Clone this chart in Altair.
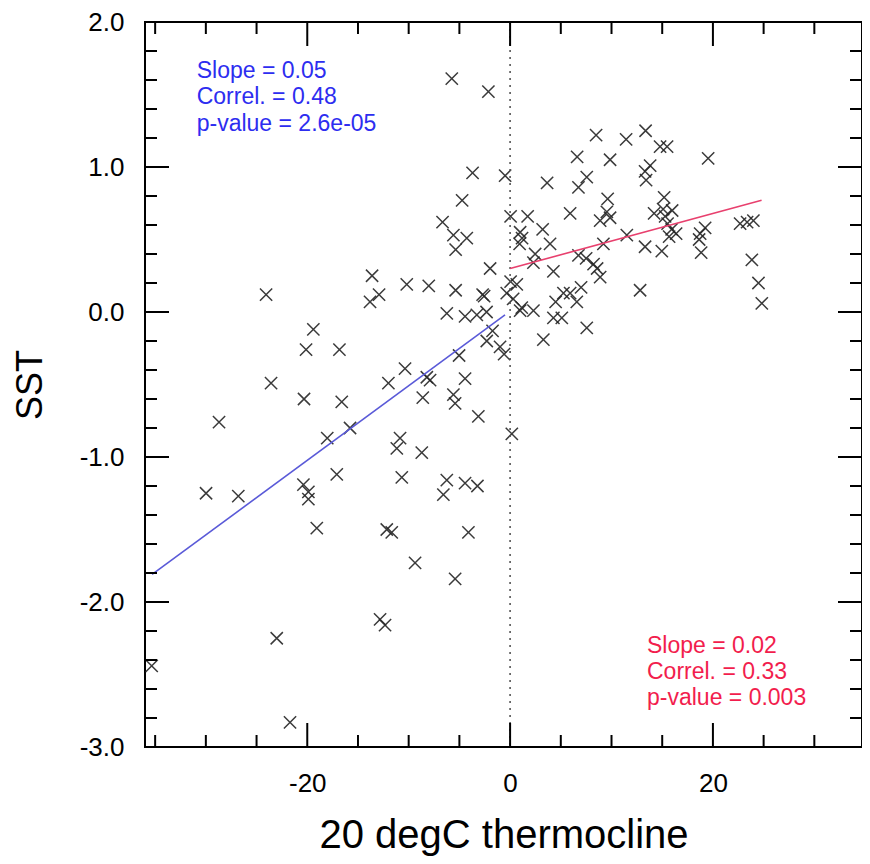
import altair as alt
import pandas as pd

# ---------------- data ----------------
# points with negative thermocline anomaly (x, y)
neg_points = [
    (-5.75, 1.61), (-2.14, 1.52), (-3.70, 0.96), (-0.49, 0.94), (-4.73, 0.77),
    (-6.66, 0.62), (-5.59, 0.53), (-4.27, 0.51), (-5.37, 0.43), (-1.97, 0.30),
    (-13.61, 0.25), (-10.19, 0.19), (-8.02, 0.18), (-5.37, 0.15), (-2.71, 0.12),
    (-2.56, 0.11), (-24.06, 0.12), (-12.92, 0.12), (-13.81, 0.07), (-6.24, -0.01),
    (-4.44, -0.03), (-3.28, -0.02), (-2.32, 0.00), (-19.40, -0.12), (-1.73, -0.13),
    (-2.30, -0.20), (-0.99, -0.24), (-0.59, -0.29), (-20.12, -0.26), (-16.83, -0.26),
    (-5.03, -0.30), (-10.36, -0.39), (-12.00, -0.49), (-8.21, -0.45), (-7.89, -0.47),
    (-4.44, -0.46), (-23.57, -0.49), (-20.32, -0.60), (-16.60, -0.62), (-8.61, -0.59),
    (-5.59, -0.57), (-5.42, -0.63), (-3.13, -0.72), (-28.70, -0.76), (-18.03, -0.87),
    (-15.78, -0.80), (-10.85, -0.87), (-11.17, -0.94), (-8.71, -0.97), (-17.09, -1.12),
    (-10.68, -1.14), (-6.24, -1.16), (-6.58, -1.26), (-4.44, -1.18), (-3.22, -1.20),
    (-29.98, -1.25), (-26.80, -1.27), (-20.38, -1.19), (-19.89, -1.24), (-19.89, -1.29),
    (-19.06, -1.49), (-12.16, -1.50), (-11.67, -1.52), (-4.11, -1.52), (-9.37, -1.73),
    (-5.42, -1.84), (-12.82, -2.12), (-12.33, -2.16), (-23.01, -2.25), (-35.34, -2.44),
    (-21.70, -2.83), (-0.33, 0.13),
]
# points with positive thermocline anomaly (x, y)
pos_points = [
    (8.48, 1.22), (11.44, 1.19), (13.36, 1.25), (14.79, 1.14), (15.48, 1.14),
    (6.61, 1.07), (9.86, 1.05), (19.53, 1.06), (13.81, 1.01), (13.31, 0.97),
    (13.41, 0.91), (3.65, 0.89), (7.56, 0.93), (6.74, 0.86), (9.62, 0.78),
    (15.19, 0.79), (5.92, 0.68), (8.88, 0.63), (9.54, 0.69), (9.86, 0.65),
    (0.05, 0.66), (1.73, 0.66), (14.20, 0.68), (15.09, 0.71), (15.98, 0.70),
    (15.29, 0.66), (3.21, 0.57), (0.99, 0.55), (1.18, 0.51), (0.94, 0.47),
    (3.94, 0.47), (9.20, 0.47), (11.51, 0.53), (15.53, 0.61), (15.93, 0.57),
    (16.37, 0.54), (15.68, 0.52), (19.23, 0.58), (18.74, 0.54), (18.64, 0.50),
    (18.84, 0.41), (22.68, 0.61), (23.37, 0.62), (23.99, 0.63), (13.31, 0.45),
    (14.96, 0.42), (2.47, 0.40), (2.30, 0.34), (6.74, 0.39), (7.50, 0.37),
    (8.23, 0.33), (8.58, 0.30), (8.88, 0.24), (4.27, 0.28), (23.84, 0.36),
    (24.49, 0.20), (24.82, 0.06), (12.82, 0.15), (0.05, 0.21), (0.66, 0.19),
    (0.30, 0.09), (1.15, 0.03), (0.99, 0.01), (2.30, 0.01), (5.26, 0.13),
    (5.92, 0.13), (7.00, 0.17), (6.58, 0.07), (4.49, 0.07), (4.27, -0.04),
    (5.10, -0.04), (7.56, -0.11), (3.28, -0.19), (0.17, -0.84),
]

# regression line end points
neg_fit_x = [-35.3, -0.5]
neg_fit_y = [-1.81, -0.02]
pos_fit_x = [0.0, 24.8]
pos_fit_y = [0.30, 0.77]

# statistics text
neg_stats = ["Slope = 0.05", "Correl. = 0.48", "p-value = 2.6e-05"]
pos_stats = ["Slope = 0.02", "Correl. = 0.33", "p-value = 0.003"]
neg_stats_y = [1.66, 1.48, 1.30]
pos_stats_y = [-2.30, -2.48, -2.66]

# axis ticks
x_major = [-20, 0, 20]
x_minor = [-35, -30, -25, -15, -10, -5, 5, 10, 15, 25, 30]
y_major = [-3, -2, -1, 0, 1, 2]
y_minor = [-2.8, -2.6, -2.4, -2.2, -1.8, -1.6, -1.4, -1.2, -0.8, -0.6, -0.4,
           -0.2, 0.2, 0.4, 0.6, 0.8, 1.2, 1.4, 1.6, 1.8]

# ---------------- chart ----------------
W, H = 717, 725
FONT = "Liberation Sans"
xs = alt.Scale(domain=[-36, 34.7], nice=False, zero=False)
ys = alt.Scale(domain=[-3, 2], nice=False, zero=False)

xa = alt.Axis(
    values=x_major, title="20 degC thermocline", tickSize=0, domain=False, grid=False,
    labelExpr="replace(format(datum.value, 'd'), '\u2212', '-')",
    labelFontSize=26, labelPadding=23, labelFont=FONT, labelColor="black",
    titleFontSize=40, titleFontWeight="normal", titleFont=FONT, titleColor="black",
    titleBaseline="alphabetic", titleY=100)
ya = alt.Axis(
    values=y_major, title="SST", tickSize=0, domain=False, grid=False,
    labelExpr="replace(format(datum.value, '.1f'), '\u2212', '-')",
    labelFontSize=26, labelPadding=21, labelFont=FONT, labelColor="black",
    titleFontSize=36, titleFontWeight="normal", titleFont=FONT, titleColor="black",
    titleAngle=270, titleBaseline="alphabetic", titleAlign="center",
    titleX=-104, titleY=H / 2)


def X(field):
    return alt.X(field, scale=xs, axis=xa, title="20 degC thermocline")


def Y(field):
    return alt.Y(field, scale=ys, axis=ya, title="SST")


pts = pd.DataFrame(neg_points + pos_points, columns=["x", "y"])

points = alt.Chart(pts).mark_point(
    shape="M-1,-1L1,1M-1,1L1,-1", size=150, filled=False,
    strokeWidth=1.5, color="#262626", opacity=0.9
).encode(x=X("x:Q"), y=Y("y:Q"))

zero_line = alt.Chart(pd.DataFrame({"x": [0]})).mark_rule(
    color="#555555", strokeWidth=1.6, strokeDash=[2, 5]
).encode(x=X("x:Q"), y=alt.value(0), y2=alt.value(H))

neg_fit = alt.Chart(pd.DataFrame({"x": neg_fit_x, "y": neg_fit_y})).mark_line(
    color="#5a5ad8", strokeWidth=1.6
).encode(x=X("x:Q"), y=Y("y:Q"))

pos_fit = alt.Chart(pd.DataFrame({"x": pos_fit_x, "y": pos_fit_y})).mark_line(
    color="#e8406e", strokeWidth=1.6
).encode(x=X("x:Q"), y=Y("y:Q"))

neg_text = alt.Chart(pd.DataFrame({"t": neg_stats, "y": neg_stats_y, "x": [-30.9] * 3})).mark_text(
    align="left", baseline="middle", fontSize=23, font=FONT, color="#2d2df0"
).encode(x=X("x:Q"), y=Y("y:Q"), text="t:N")

pos_text = alt.Chart(pd.DataFrame({"t": pos_stats, "y": pos_stats_y, "x": [13.5] * 3})).mark_text(
    align="left", baseline="middle", fontSize=23, font=FONT, color="#f21d4d"
).encode(x=X("x:Q"), y=Y("y:Q"), text="t:N")


def xticks(vals, length):
    d = pd.DataFrame({"x": vals})
    base = alt.Chart(d).mark_rule(color="black", strokeWidth=2)
    bottom = base.encode(x=X("x:Q"), y=alt.value(H), y2=alt.value(H - length))
    top = base.encode(x=X("x:Q"), y=alt.value(0), y2=alt.value(length))
    return [bottom, top]


def yticks(vals, length):
    d = pd.DataFrame({"y": vals})
    base = alt.Chart(d).mark_rule(color="black", strokeWidth=2)
    left = base.encode(y=Y("y:Q"), x=alt.value(0), x2=alt.value(length))
    right = base.encode(y=Y("y:Q"), x=alt.value(W), x2=alt.value(W - length))
    return [left, right]


tick_layers = xticks(x_major, 24) + xticks(x_minor, 12) + yticks(y_major, 24) + yticks(y_minor, 12)

chart = alt.layer(
    points, zero_line, neg_fit, pos_fit, neg_text, pos_text, *tick_layers
).properties(
    width=W, height=H,
    autosize=alt.AutoSizeParams(type="none"),
    padding={"left": 137, "top": 14, "right": 0, "bottom": 109},
    background="white",
).configure_view(
    stroke="black", strokeWidth=2
)

chart.save("out.html", embed_options={"renderer": "svg", "actions": False})
